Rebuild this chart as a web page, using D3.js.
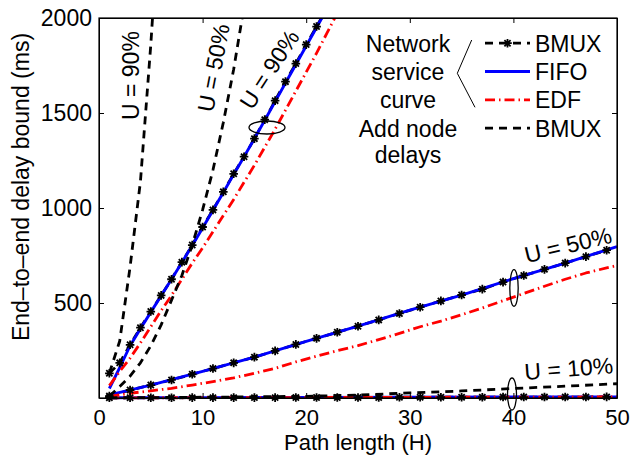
<!DOCTYPE html>
<html><head><meta charset="utf-8">
<script src="https://cdn.jsdelivr.net/npm/d3@7"></script>
<style>
body{margin:0;background:#fff}
svg{display:block}
text{font-family:"Liberation Sans",Arial,Helvetica,sans-serif;fill:#000}
</style>
</head><body>
<svg id="c" width="631" height="455"></svg>
<script>
// ---------- data ----------
const xTicks = [0, 10, 20, 30, 40, 50];
const yTicks = [500, 1000, 1500, 2000];

// U = 90 %
const H90 = [1,2,3,4,5,6,7,8,9,10,11,12,13,14,15,16,17,18,19,20,21,22];
const bmuxNet90 = [130,185,280,370,455,540,625,715,805,900,990,1085,1180,1270,1365,1465,1565,1665,1760,1860,1955,2050];
const fifo90 = [50,160,275,365,452,538,625,713,803,895,988,1082,1177,1270,1365,1462,1560,1658,1755,1853,1950,2048];
const H90edf = [1,2,3,4,5,6,7,8,9,10,11,12,13,14,15,16,17,18,19,20,21,22,23];
const edf90 = [65,140,210,290,375,460,540,625,710,790,875,960,1045,1135,1225,1320,1415,1515,1615,1715,1815,1920,2025];
const H90add = [1,2,3,4,5,6];
const bmuxAdd90 = [130,300,690,1140,1860,2700];

// U = 50 %
const Hodd = [1,3,5,7,9,11,13,15,17,19,21,23,25,27,29,31,33,35,37,39,41,43,45,47,49];
const bmuxNet50 = [10,42,68,95,125,155,185,215,248,282,314,346,378,411,445,478,511,542,573,610,645,677,710,744,778];
const H50fifo = [1,5,10,15,20,25,30,35,40,45,50];
const fifo50 = [16,68,140,215,298,378,462,542,628,710,797];
const H50edf = [1,3,5,7,9,11,13,15,17,19,21,23,25,27,29,31,33,35,37,39,41,43,45,47,49,50];
const edf50 = [8,25,38,51,68,86,106,130,156,190,220,249,276,307,340,375,405,438,474,512,550,588,625,658,685,697];
const H50add = [1,2,3,4,5,6,7,8,9,10,11,12,13,14];
const bmuxAdd50 = [10,60,115,185,275,385,515,645,805,990,1200,1450,1730,2060];

// U = 10 %
const bmuxNet10 = [1,1,1,1,2,2,2,2,2,3,3,3,3,3,4,4,4,4,4,5,5,5,5,5,6];
const H10 = [1,10,20,30,40,50];
const fifo10 = [1,2,3,4,5,6];
const edf10 = [1,1.5,2.5,3.5,4.5,5.5];
const H10add = [1,5,10,15,20,25,30,35,40,45,50];
const bmuxAdd10 = [1,2,4,6,9,15,27,37,50,62,75];

const legendGroups = ["Network", "service", "curve", "Add node", "delays"];
const legendNames = ["BMUX", "FIFO", "EDF", "BMUX"];
const uLabels = ["U = 90%", "U = 50%", "U = 90%", "U = 50%", "U = 10%"];

// ---------- setup ----------
const svg = d3.select("#c");
const L = 99, R = 617, T = 18, B = 398;
const x = d3.scaleLinear([0, 50], [L, R]);
const y = d3.scaleLinear([0, 2000], [B, T]);
const FS = 23;

svg.append("defs").append("clipPath").attr("id", "clip")
  .append("rect").attr("x", L - 4).attr("y", T).attr("width", R - L + 8).attr("height", B - T + 4);

const zip = (h, v) => h.map((d, i) => [d, v[i]]);
const line = d3.line().x(d => x(d[0])).y(d => y(d[1]));

const styles = {
  bmux: {stroke: "#000", dash: "8,6", w: 2.8},
  fifo: {stroke: "#0000ff", dash: null, w: 2.9},
  edf: {stroke: "#ff0000", dash: "10,4,1.5,4", w: 2.8},
  add: {stroke: "#000", dash: "8,6", w: 2.8}
};

const series = [
  ["bmux", H90, bmuxNet90], ["bmux", Hodd, bmuxNet50], ["bmux", Hodd, bmuxNet10],
  ["fifo", H90, fifo90], ["fifo", H50fifo, fifo50], ["fifo", H10, fifo10],
  ["edf", H90edf, edf90], ["edf", H50edf, edf50], ["edf", H10, edf10],
  ["add", H90add, bmuxAdd90], ["add", H50add, bmuxAdd50], ["add", H10add, bmuxAdd10]
];

const gLines = svg.append("g").attr("clip-path", "url(#clip)");
series.forEach(([k, h, v]) => {
  const s = styles[k];
  gLines.append("path").datum(zip(h, v)).attr("d", line)
    .attr("fill", "none").attr("stroke", s.stroke).attr("stroke-width", s.w)
    .attr("stroke-dasharray", s.dash).attr("stroke-linejoin", "round");
});

// star markers
const ms = 4.3;
const starPath = `M${-ms},0L${ms},0M0,${-ms}L0,${ms}M${-ms*0.72},${-ms*0.72}L${ms*0.72},${ms*0.72}M${-ms*0.72},${ms*0.72}L${ms*0.72},${-ms*0.72}`;
const gMk = svg.append("g");
[[H90, bmuxNet90], [Hodd, bmuxNet50], [Hodd, bmuxNet10]].forEach(([h, v]) => {
  gMk.selectAll(null).data(zip(h, v).filter(d => d[1] <= 2000)).enter().append("path")
    .attr("transform", d => `translate(${x(d[0])},${y(d[1])})`)
    .attr("d", starPath).attr("stroke", "#000").attr("stroke-width", 1.8).attr("fill", "none");
});

// ---------- axes ----------
const ax = svg.append("g");
const gx = ax.append("g").attr("transform", `translate(0,${B})`)
  .call(d3.axisBottom(x).tickValues(xTicks).tickFormat(d3.format("d")).tickSize(-5).tickSizeOuter(0).tickPadding(11));
const gy = ax.append("g").attr("transform", `translate(${L},0)`)
  .call(d3.axisLeft(y).tickValues(yTicks).tickFormat(d3.format("d")).tickSize(-5).tickSizeOuter(0).tickPadding(7));
ax.append("g").attr("transform", `translate(0,${T})`)
  .call(d3.axisTop(x).tickValues(xTicks).tickSize(-5).tickSizeOuter(0).tickFormat(""));
ax.append("g").attr("transform", `translate(${R},0)`)
  .call(d3.axisRight(y).tickValues(yTicks).tickSize(-5).tickSizeOuter(0).tickFormat(""));
ax.selectAll("text").attr("font-family", '"Liberation Sans",Arial,sans-serif').attr("fill", "#000");
gx.selectAll("text").attr("font-size", 22);
gy.selectAll("text").attr("font-size", FS);
ax.selectAll("line,path").attr("stroke", "#000").attr("stroke-width", 1);
svg.append("rect").attr("x", L).attr("y", T).attr("width", R - L).attr("height", B - T)
  .attr("fill", "none").attr("stroke", "#000").attr("stroke-width", 1.2);

// axis labels
svg.append("text").attr("x", (L + R) / 2).attr("y", 449.5).attr("text-anchor", "middle")
  .attr("font-size", 22).text("Path length (H)");
svg.append("text").attr("transform", "translate(28.5,187) rotate(-90)").attr("text-anchor", "middle")
  .attr("font-size", FS).text("End–to–end delay bound (ms)");

// ---------- annotations ----------
const uPos = [[138.5, 120, -90], [213, 113, -79], [252, 111, -57], [526.7, 263.3, -13.5], [525, 380, -4.3]];
uLabels.forEach((t, i) => {
  const [px, py, a] = uPos[i];
  svg.append("text").attr("transform", `translate(${px},${py}) rotate(${a})`)
    .attr("font-size", FS).text(t);
});
const ells = [[267, 127.5, 18, 6.5], [514, 288, 4.2, 18.3], [512, 394, 4.5, 16]];
ells.forEach(([cx, cy, rx, ry]) => svg.append("ellipse").attr("cx", cx).attr("cy", cy)
  .attr("rx", rx).attr("ry", ry).attr("fill", "none").attr("stroke", "#000").attr("stroke-width", 1.3));

// ---------- legend ----------
const lg = svg.append("g");
const leftBase = [51.7, 80, 108.3, 136.7, 163];
legendGroups.forEach((t, i) => lg.append("text").attr("x", 408).attr("y", leftBase[i])
  .attr("text-anchor", "middle").attr("font-size", FS).text(t));
lg.append("path").attr("d", "M471.7,40L457.3,73.3L475,107.3").attr("fill", "none").attr("stroke", "#000").attr("stroke-width", 1);
const keys = ["bmux", "fifo", "edf", "add"];
const rightBase = [51.7, 80, 108.3, 136.7];
legendNames.forEach((t, i) => {
  const s = styles[keys[i]];
  const yy = rightBase[i] - 8.5;
  lg.append("line").attr("x1", 485).attr("x2", 530).attr("y1", yy).attr("y2", yy)
    .attr("stroke", s.stroke).attr("stroke-width", s.w).attr("stroke-dasharray", s.dash);
  if (i === 0) lg.append("path").attr("transform", `translate(507.5,${yy})`).attr("d", starPath)
    .attr("stroke", "#000").attr("stroke-width", 1.8).attr("fill", "none");
  lg.append("text").attr("x", 535).attr("y", rightBase[i]).attr("font-size", FS).text(t);
});
</script>
</body></html>
